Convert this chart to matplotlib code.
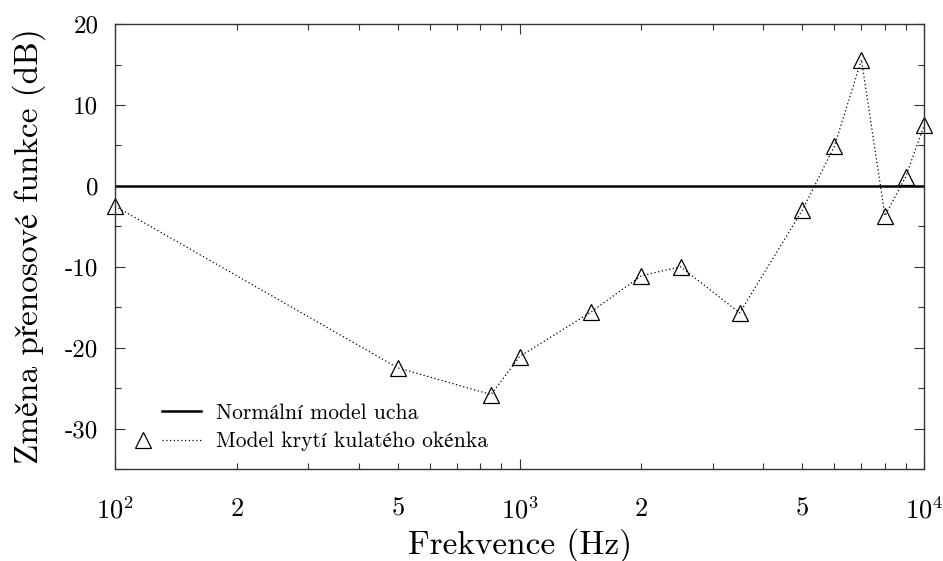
import numpy as np
import matplotlib
matplotlib.use('Agg')
import matplotlib.pyplot as plt
from matplotlib.lines import Line2D
from matplotlib.legend_handler import HandlerTuple
from matplotlib.ticker import FixedLocator, FixedFormatter

plt.rcParams['font.family'] = ['cmr10', 'STIXGeneral', 'DejaVu Serif']
plt.rcParams['mathtext.fontset'] = 'cm'
plt.rcParams['axes.unicode_minus'] = False

# data
freq = [100, 500, 850, 1000, 1500, 2000, 2500, 3500, 5000, 6000, 7000, 8000, 9000, 10000]
change_db = [-2.5, -22.5, -25.8, -21.1, -15.6, -11.1, -10.0, -15.7, -3.0, 4.9, 15.6, -3.7, 1.1, 7.5]
normal_db = [0, 0]
normal_freq = [100, 10000]

major_x = [100, 1000, 10000]
major_x_labels = ['$10^2$', '$10^3$', '$10^4$']
minor_x = [m * d for d in (100, 1000) for m in range(2, 10)]
minor_x_labels = ['2' if m == 2 else '5' if m == 5 else '' for d in (100, 1000) for m in range(2, 10)]
y_ticks = [-30, -20, -10, 0, 10, 20]
y_labels = ['-30', '-20', '-10', '0', '10', '20']
y_minor = [-35, -25, -15, -5, 5, 15]

fig = plt.figure(figsize=(9.43, 5.61), dpi=100)
ax = fig.add_axes([0.122, 0.164, 0.858, 0.793])

ax.plot(normal_freq, normal_db, color='black', lw=1.8)
ax.plot(freq, change_db, color='black', lw=0.9, linestyle=(0, (1, 2)),
        marker='^', markersize=11, markerfacecolor='none', markeredgewidth=0.9, clip_on=False)

ax.set_xscale('log')
ax.set_xlim(100, 10000)
ax.set_ylim(-35, 20)

ax.xaxis.set_major_locator(FixedLocator(major_x))
ax.xaxis.set_major_formatter(FixedFormatter(major_x_labels))
ax.xaxis.set_minor_locator(FixedLocator(minor_x))
ax.xaxis.set_minor_formatter(FixedFormatter(minor_x_labels))
ax.set_yticks(y_ticks, y_labels)
ax.set_yticks(y_minor, minor=True)

ax.tick_params(which='both', direction='in', top=True, right=True, color='#333333')
ax.tick_params(axis='x', which='both', pad=20, labelsize=19)
ax.tick_params(axis='y', which='both', pad=12, labelsize=18)
ax.tick_params(which='major', length=7, width=0.8)
ax.tick_params(which='minor', length=4, width=0.8)
for s in ax.spines.values():
    s.set_linewidth(1.0)
    s.set_color('#333333')

ax.set_xlabel('Frekvence (Hz)', fontsize=24, labelpad=3)
ax.set_ylabel('Změna přenosové funkce (dB)', fontsize=24, labelpad=14)

blank = Line2D([], [], color='none')
h1 = (blank, Line2D([], [], color='black', lw=1.8))
h2 = (Line2D([], [], color='black', marker='^', markersize=11, markerfacecolor='none',
             markeredgewidth=0.9, linestyle='none'),
      Line2D([], [], color='black', lw=0.9, linestyle=(0, (1, 2))))
ax.legend([h1, h2], ['Normální model ucha', 'Model krytí kulatého okénka'],
          handler_map={tuple: HandlerTuple(ndivide=None, pad=0.0)},
          loc='lower left', bbox_to_anchor=(0.0, 0.021), frameon=False, fontsize=15.5,
          handlelength=3.6, handletextpad=0.7, labelspacing=0.4, borderaxespad=0.0)

fig.savefig('out.png', dpi=100)
